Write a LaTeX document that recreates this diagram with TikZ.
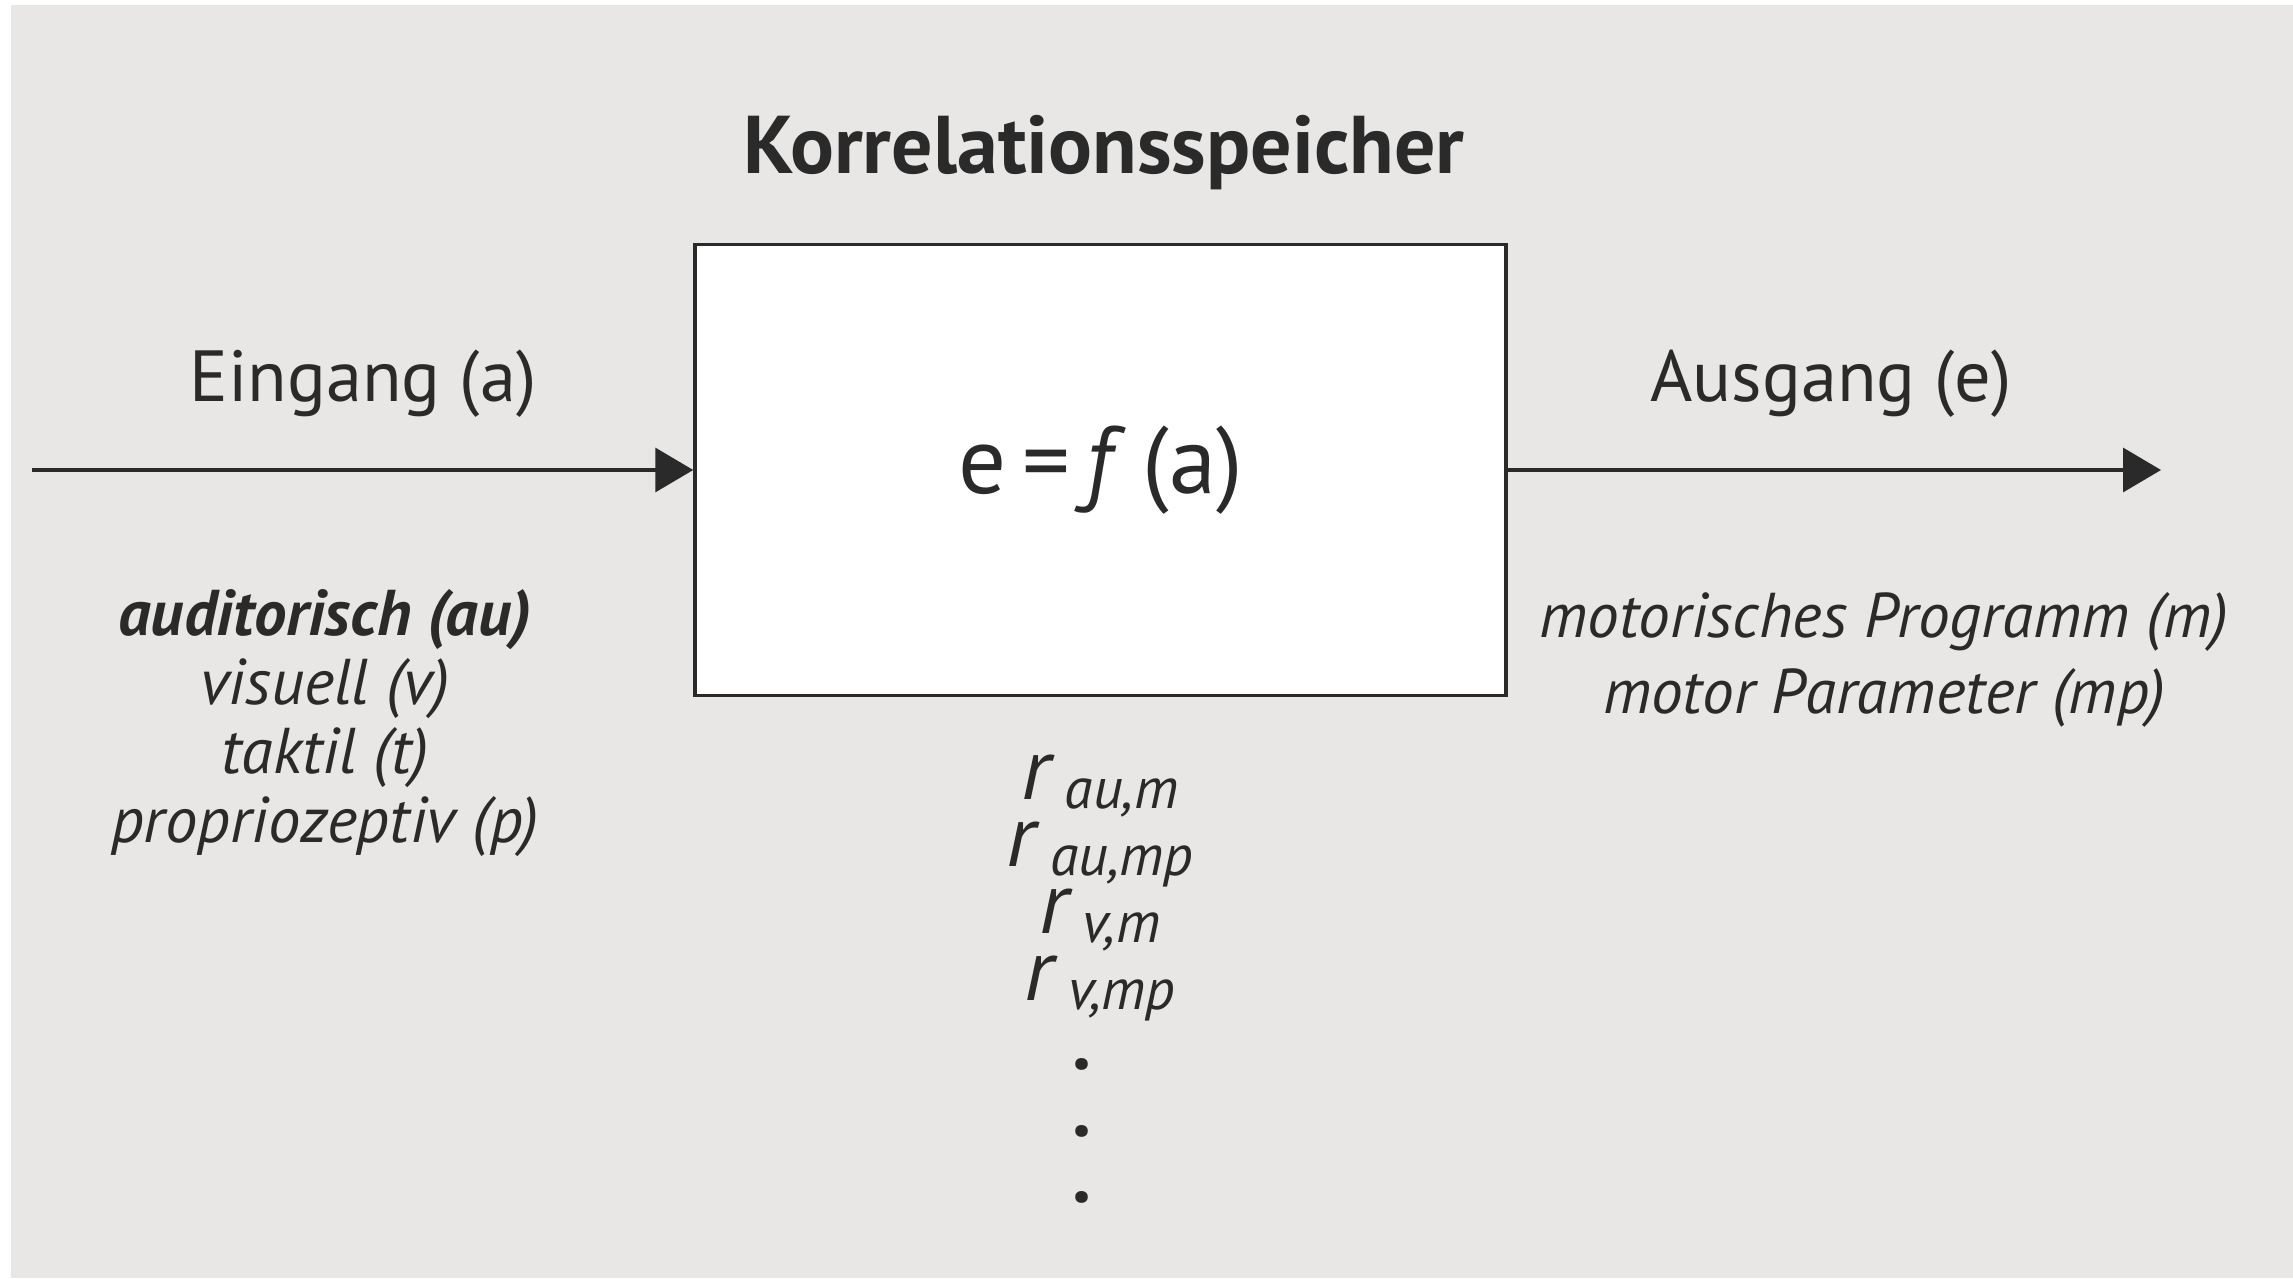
\documentclass[tikz,border=0pt]{standalone}
\usepackage{fontspec}
\setmainfont{PT Sans}
\usetikzlibrary{arrows.meta,positioning}

\definecolor{bggray}{HTML}{E8E7E5}
\definecolor{ink}{HTML}{2A2A2A}

% Korrelation r mit tiefgestelltem Index
\newcommand{\korr}[1]{{\fontsize{25}{25}\selectfont\textit{r}}\,\raisebox{-0.3ex}{\textit{#1}}}

\begin{document}
\begin{tikzpicture}[
  >={Triangle[length=0.38cm, width=0.44cm]},
  every node/.style={text=ink},
  titel/.style={font=\fontsize{23.3}{27}\selectfont\bfseries},
  speicher/.style={draw=ink, line width=1pt, fill=white, rectangle,
                   minimum width=8.11cm, minimum height=4.51cm,
                   font=\fontsize{27}{32}\selectfont},
  kanal/.style={font=\fontsize{20.6}{25}\selectfont},
  liste/.style={font=\fontsize{18.4}{19.6}\selectfont\itshape, align=center},
  pfeil/.style={->, draw=ink, line width=1pt}
]

% ===== Rahmen und Hintergrund =====
\useasboundingbox (0,0) rectangle (22.93,12.78);
\fill[bggray] (0.11,0) rectangle (22.93,12.73);

% ===== Spalten =====
\def\xIn{3.63}      % Eingang
\def\xBox{11.005}   % Speicher
\def\xOut{18.31}    % Ausgang
\def\yPfeil{8.08}   % Höhe der Pfeile

% ===== Speicher =====
\node[titel] (titel) at (11.04, 11.25) {Korrelationsspeicher};
\node[speicher] (KS) at (\xBox, \yPfeil) {e\,=\,\textit{f}\,(a)};

% ===== Eingang / Ausgang =====
\node[kanal] (ein) at (\xIn, 8.94) {Eingang (a)};
\node[kanal] (aus) at (\xOut, 8.94) {Ausgang (e)};

\coordinate (einStart) at (0.32, \yPfeil);
\coordinate (ausEnde) at (21.61, \yPfeil);
\draw[pfeil] (einStart) -- (KS.west);
\draw[pfeil] (KS.east) -- (ausEnde);

% ===== Modalitäten =====
\node[liste] (modal) at (3.25, 5.55)
  {\textbf{auditorisch (au)}\\ visuell (v)\\ taktil (t)\\ propriozeptiv (p)};

\node[liste, font=\fontsize{18}{21.5}\selectfont\itshape] (motor) at (18.84, 6.18)
  {motorisches Programm (m)\\ motor Parameter (mp)};

% ===== Korrelationen =====
\node[liste, font=\fontsize{16.5}{19}\selectfont] (korr) at (11.0, 3.90)
  {\korr{au,m}\\ \korr{au,mp}\\ \korr{v,m}\\ \korr{v,mp}};
\node[font=\fontsize{22}{19}\selectfont\bfseries, align=center] (punkte) at (10.82, 1.47)
  {.\\ .\\ .};

\end{tikzpicture}
\end{document}
